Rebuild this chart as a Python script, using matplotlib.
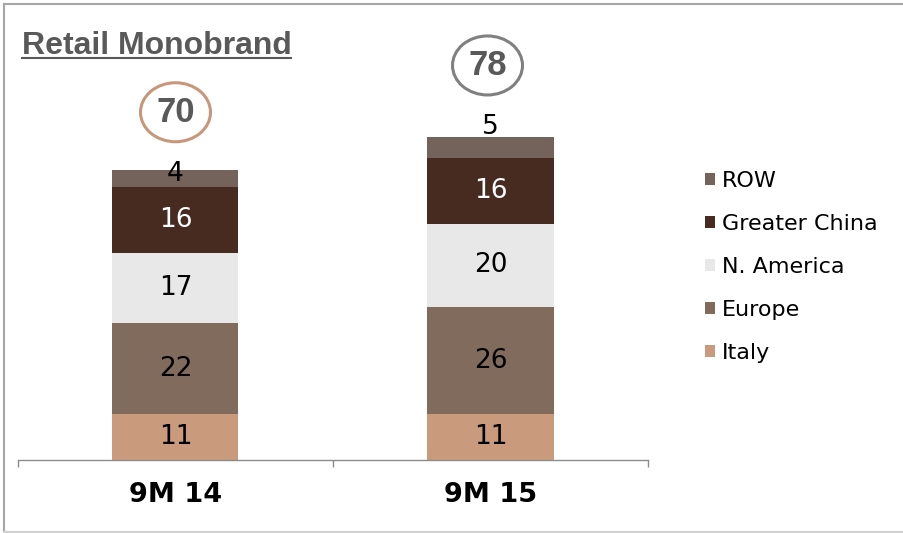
import matplotlib
matplotlib.use("Agg")
import matplotlib.pyplot as plt
from matplotlib.patches import Ellipse, Patch
from matplotlib.lines import Line2D
import numpy as np

categories = ["9M 14", "9M 15"]
regions = ["Italy", "Europe", "N. America", "Greater China", "ROW"]
italy = [11, 11]
europe = [22, 26]
n_america = [17, 20]
greater_china = [16, 16]
row = [4, 5]
totals = [70, 78]
title = "Retail Monobrand"

series = [italy, europe, n_america, greater_china, row]
colors = ["#C99A7B", "#806B5D", "#E8E8E8", "#472B20", "#74635A"]
label_colors = ["black", "black", "black", "white", "black"]
circle_colors = ["#C8977A", "#808080"]

W, H = 904, 533
fig = plt.figure(figsize=(W / 100, H / 100), dpi=100)
ax = fig.add_axes([18 / W, 73 / H, 630 / W, 414 / H])

x = np.arange(len(categories))
bottom = np.zeros(len(categories))
for vals, col, lc, name in zip(series, colors, label_colors, regions):
    vals = np.array(vals, dtype=float)
    ax.bar(x, vals, width=0.4, bottom=bottom, color=col, label=name, zorder=2)
    for i, v in enumerate(vals):
        if name == "ROW" and i == 1:
            ypos = bottom[i] + v + 2.5
        elif name == "ROW":
            ypos = bottom[i] + v / 2 + 1
        else:
            ypos = bottom[i] + v / 2
        ax.text(x[i], ypos, f"{int(v)}", ha="center", va="center",
                fontsize=19, color=lc, family="DejaVu Sans", zorder=4)
    bottom += vals

ax.set_xlim(-0.5, 1.5)
ax.set_ylim(0, 100)
for s in ["top", "right", "left"]:
    ax.spines[s].set_visible(False)
ax.spines["bottom"].set_color("#8C8C8C")
ax.spines["bottom"].set_linewidth(1)
ax.set_yticks([])
ax.set_xticks(x)
ax.set_xticklabels(categories, fontsize=19.5, fontweight="bold", family="DejaVu Sans")
ax.tick_params(axis="x", which="major", length=0, pad=16)
ax.set_xticks([-0.5, 0.5, 1.5], minor=True)
ax.tick_params(axis="x", which="minor", length=5, color="#8C8C8C", width=1)

# circled totals
y_per_px = 100 / 414
x_per_px = 2 / 630
circle_y = [totals[0] + 14.0, totals[1] + 17.3]
circle_dx = [0.0, -0.0095]
for i, (t, cy, cc) in enumerate(zip(totals, circle_y, circle_colors)):
    cx = x[i] + circle_dx[i]
    e = Ellipse((cx, cy), width=70 * x_per_px, height=59 * y_per_px,
                fill=False, edgecolor=cc, linewidth=2.2, clip_on=False, zorder=3)
    ax.add_patch(e)
    ax.text(cx, cy, str(t), ha="center", va="center", fontsize=25, fontweight="bold",
            color="#595959", family="Liberation Sans")

# legend
handles = [Patch(facecolor=c, edgecolor="none") for c in colors][::-1]
leg = fig.legend(handles, regions[::-1], loc="upper left",
                 bbox_to_anchor=(694 / W, 1 - 160 / H), frameon=False,
                 fontsize=16, handlelength=0.45, handleheight=0.45,
                 handletextpad=0.3, labelspacing=1.03, borderpad=0)
for t in leg.get_texts():
    t.set_family("DejaVu Sans")

# title
fig.text(22 / W, 1 - 54 / H, title, ha="left", va="baseline", fontsize=23,
         fontweight="bold", color="#595959", family="Liberation Sans")
fig.add_artist(Line2D([22 / W, 291 / W], [1 - 58 / H, 1 - 58 / H], color="#595959", linewidth=1.5))

# figure border
fig.add_artist(Line2D([4.5 / W, 1], [1 - 3.5 / H, 1 - 3.5 / H], color="#A6A6A6", linewidth=1.5))
fig.add_artist(Line2D([4.5 / W, 4.5 / W], [1.5 / H, 1 - 3.5 / H], color="#A6A6A6", linewidth=1.5))
fig.add_artist(Line2D([4.5 / W, 1], [1.5 / H, 1.5 / H], color="#D0D0D0", linewidth=1.5))

fig.savefig("out.png", dpi=100)
